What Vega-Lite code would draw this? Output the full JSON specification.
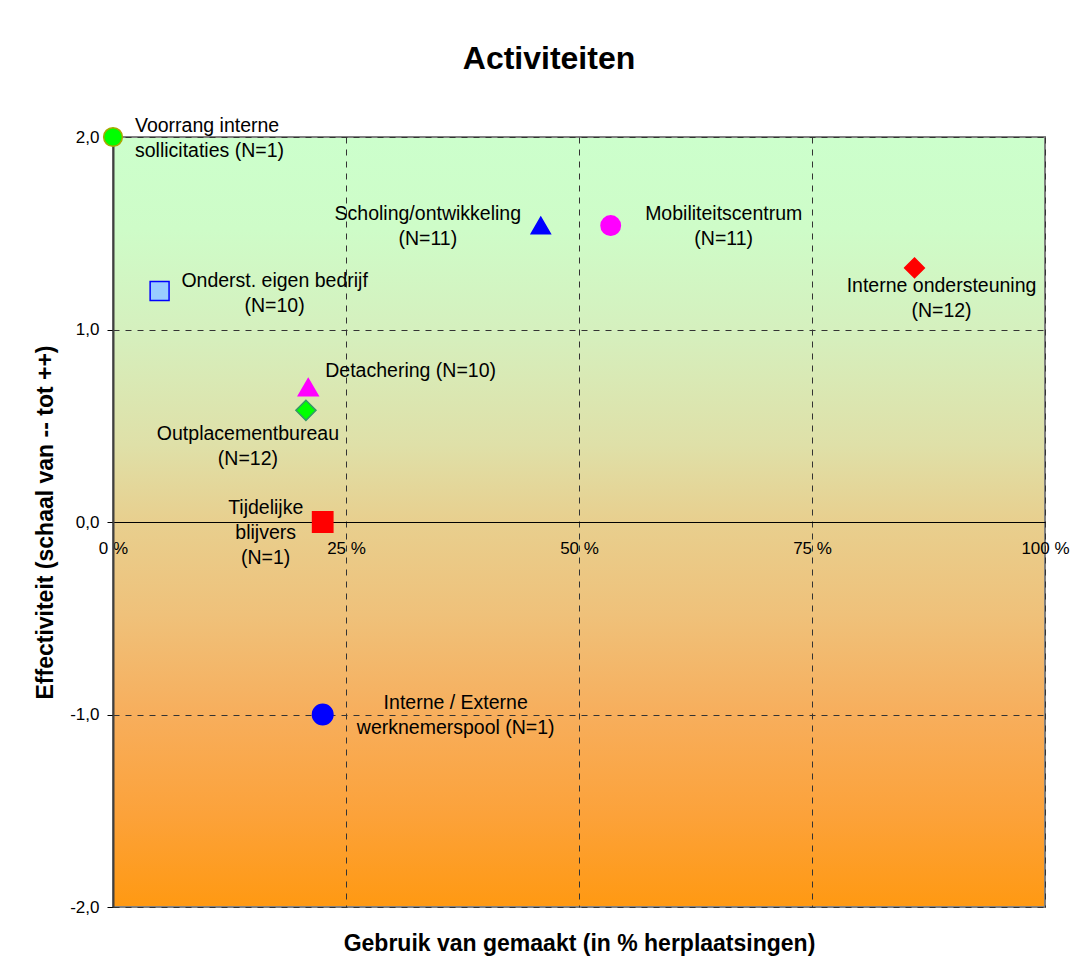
{
  "$schema": "https://vega.github.io/schema/vega-lite/v6.json",
  "width": 932,
  "height": 770,
  "autosize": {"type": "none"},
  "padding": {"left": 113, "top": 137, "right": 28, "bottom": 67},
  "background": "white",
  "title": {
    "text": "Activiteiten",
    "font": "Liberation Sans",
    "fontSize": 32,
    "fontWeight": "bold",
    "color": "black",
    "anchor": "middle",
    "baseline": "alphabetic",
    "dx": -30,
    "offset": 15
  },
  "view": {
    "fill": {
      "gradient": "linear",
      "x1": 0, "y1": 0, "x2": 0, "y2": 1,
      "stops": [
        {"offset": 0, "color": "#CCFFCC"},
        {"offset": 0.12, "color": "#CEFCC8"},
        {"offset": 0.25, "color": "#D5F0BE"},
        {"offset": 0.4, "color": "#DFE0A8"},
        {"offset": 0.5, "color": "#E8CF8E"},
        {"offset": 0.62, "color": "#EFC17A"},
        {"offset": 0.75, "color": "#F7AE5C"},
        {"offset": 0.88, "color": "#FCA23A"},
        {"offset": 1, "color": "#FF9912"}
      ]
    },
    "stroke": "#808080",
    "strokeWidth": 2
  },
  "data": {
    "values": [
      {"name": "voorrang", "pct": 0, "eff": 2.0, "label": "Voorrang interne\nsollicitaties (N=1)"},
      {"name": "onderst", "pct": 5.0, "eff": 1.2, "label": "Onderst. eigen bedrijf\n(N=10)"},
      {"name": "scholing", "pct": 45.9, "eff": 1.54, "label": "Scholing/ontwikkeling\n(N=11)"},
      {"name": "mobiliteit", "pct": 53.4, "eff": 1.54, "label": "Mobiliteitscentrum\n(N=11)"},
      {"name": "interne", "pct": 86.0, "eff": 1.32, "label": "Interne ondersteuning\n(N=12)"},
      {"name": "detachering", "pct": 20.95, "eff": 0.7, "label": "Detachering (N=10)"},
      {"name": "outplacement", "pct": 20.7, "eff": 0.58, "label": "Outplacementbureau\n(N=12)"},
      {"name": "tijdelijke", "pct": 22.5, "eff": 0.0, "label": "Tijdelijke\nblijvers\n(N=1)"},
      {"name": "pool", "pct": 22.5, "eff": -1.0, "label": "Interne / Externe\nwerknemerspool (N=1)"}
    ]
  },
  "encoding": {
    "x": {
      "field": "pct",
      "type": "quantitative",
      "scale": {"domain": [0, 100], "nice": false, "zero": false},
      "axis": {
        "values": [0, 25, 50, 75, 100],
        "labelExpr": "datum.label + ' %'",
        "offset": -385,
        "domain": true,
        "domainColor": "black",
        "domainWidth": 1,
        "ticks": false,
        "tickSize": 0,
        "labelPadding": 18,
        "labelFlush": false,
        "labelOverlap": false,
        "labelBound": false,
        "labelFont": "Liberation Sans",
        "labelFontSize": 17,
        "labelColor": "black",
        "grid": true,
        "gridColor": "#333333",
        "gridDash": [6, 6],
        "gridWidth": 1,
        "title": "Gebruik van gemaakt (in % herplaatsingen)",
        "titleFont": "Liberation Sans",
        "titleFontSize": 23,
        "titleFontWeight": "bold",
        "titleColor": "black",
        "titleY": 421,
        "titleBaseline": "middle"
      }
    },
    "y": {
      "field": "eff",
      "type": "quantitative",
      "scale": {"domain": [-2, 2], "nice": false, "zero": false},
      "axis": {
        "values": [-2, -1, 0, 1, 2],
        "labelExpr": "replace(replace(format(datum.value, '.1f'), '.', ','), '−', '-')",
        "domain": true,
        "domainColor": "#404040",
        "domainWidth": 2,
        "ticks": true,
        "tickColor": "black",
        "tickSize": 6,
        "labelPadding": 8,
        "labelFont": "Liberation Sans",
        "labelFontSize": 17,
        "labelColor": "black",
        "labelOverlap": false,
        "labelBound": false,
        "labelFlush": false,
        "grid": true,
        "gridColor": "#333333",
        "gridDash": [6, 6],
        "gridWidth": 1,
        "title": "Effectiviteit (schaal van -- tot ++)",
        "titleFont": "Liberation Sans",
        "titleFontSize": 23,
        "titleFontWeight": "bold",
        "titleColor": "black",
        "titleX": -68,
        "titleBaseline": "middle"
      }
    }
  },
  "layer": [
    {
      "mark": {"type": "point", "filled": true, "opacity": 1, "strokeWidth": 1.5},
      "encoding": {
        "shape": {
          "field": "name", "type": "nominal", "legend": null,
          "scale": {
            "domain": ["voorrang", "onderst", "scholing", "mobiliteit", "interne", "detachering", "outplacement", "tijdelijke", "pool"],
            "range": ["circle", "square", "triangle-up", "circle", "diamond", "triangle-up", "diamond", "square", "circle"]
          }
        },
        "fill": {
          "field": "name", "type": "nominal", "legend": null,
          "scale": {
            "domain": ["voorrang", "onderst", "scholing", "mobiliteit", "interne", "detachering", "outplacement", "tijdelijke", "pool"],
            "range": ["#00FF00", "#99CCFF", "#0000FF", "#FF00FF", "#FF0000", "#FF00FF", "#00FF00", "#FF0000", "#0000FF"]
          }
        },
        "stroke": {
          "field": "name", "type": "nominal", "legend": null,
          "scale": {
            "domain": ["voorrang", "onderst", "scholing", "mobiliteit", "interne", "detachering", "outplacement", "tijdelijke", "pool"],
            "range": ["#A8A800", "#0000FF", "#0000FF", "#FF00FF", "#FF0000", "#FF00FF", "#339966", "#FF0000", "#0000FF"]
          }
        },
        "size": {
          "field": "name", "type": "nominal", "legend": null,
          "scale": {
            "domain": ["voorrang", "onderst", "scholing", "mobiliteit", "interne", "detachering", "outplacement", "tijdelijke", "pool"],
            "range": [350, 420, 540, 370, 560, 540, 520, 460, 380]
          }
        }
      }
    },
    {
      "transform": [{"filter": "datum.name === 'voorrang'"}],
      "mark": {"type": "text", "align": "left", "dx": 22, "dy": -11.5},
      "encoding": {"text": {"field": "label"}}
    },
    {
      "transform": [{"filter": "datum.name === 'onderst'"}],
      "mark": {"type": "text", "align": "center", "dx": 115, "dy": -10.5},
      "encoding": {"text": {"field": "label"}}
    },
    {
      "transform": [{"filter": "datum.name === 'scholing'"}],
      "mark": {"type": "text", "align": "center", "dx": -113, "dy": -11.5},
      "encoding": {"text": {"field": "label"}}
    },
    {
      "transform": [{"filter": "datum.name === 'mobiliteit'"}],
      "mark": {"type": "text", "align": "center", "dx": 113, "dy": -11.5},
      "encoding": {"text": {"field": "label"}}
    },
    {
      "transform": [{"filter": "datum.name === 'interne'"}],
      "mark": {"type": "text", "align": "center", "dx": 27, "dy": 18.5},
      "encoding": {"text": {"field": "label"}}
    },
    {
      "transform": [{"filter": "datum.name === 'detachering'"}],
      "mark": {"type": "text", "align": "left", "dx": 17, "dy": -16},
      "encoding": {"text": {"field": "label"}}
    },
    {
      "transform": [{"filter": "datum.name === 'outplacement'"}],
      "mark": {"type": "text", "align": "center", "dx": -58, "dy": 23.5},
      "encoding": {"text": {"field": "label"}}
    },
    {
      "transform": [{"filter": "datum.name === 'tijdelijke'"}],
      "mark": {"type": "text", "align": "center", "dx": -57, "dy": -14},
      "encoding": {"text": {"field": "label"}}
    },
    {
      "transform": [{"filter": "datum.name === 'pool'"}],
      "mark": {"type": "text", "align": "center", "dx": 133, "dy": -11.5},
      "encoding": {"text": {"field": "label"}}
    }
  ],
  "config": {
    "text": {
      "font": "Liberation Sans",
      "fontSize": 19.5,
      "color": "black",
      "fill": "black",
      "baseline": "middle",
      "lineBreak": "\n",
      "lineHeight": 25
    }
  }
}
